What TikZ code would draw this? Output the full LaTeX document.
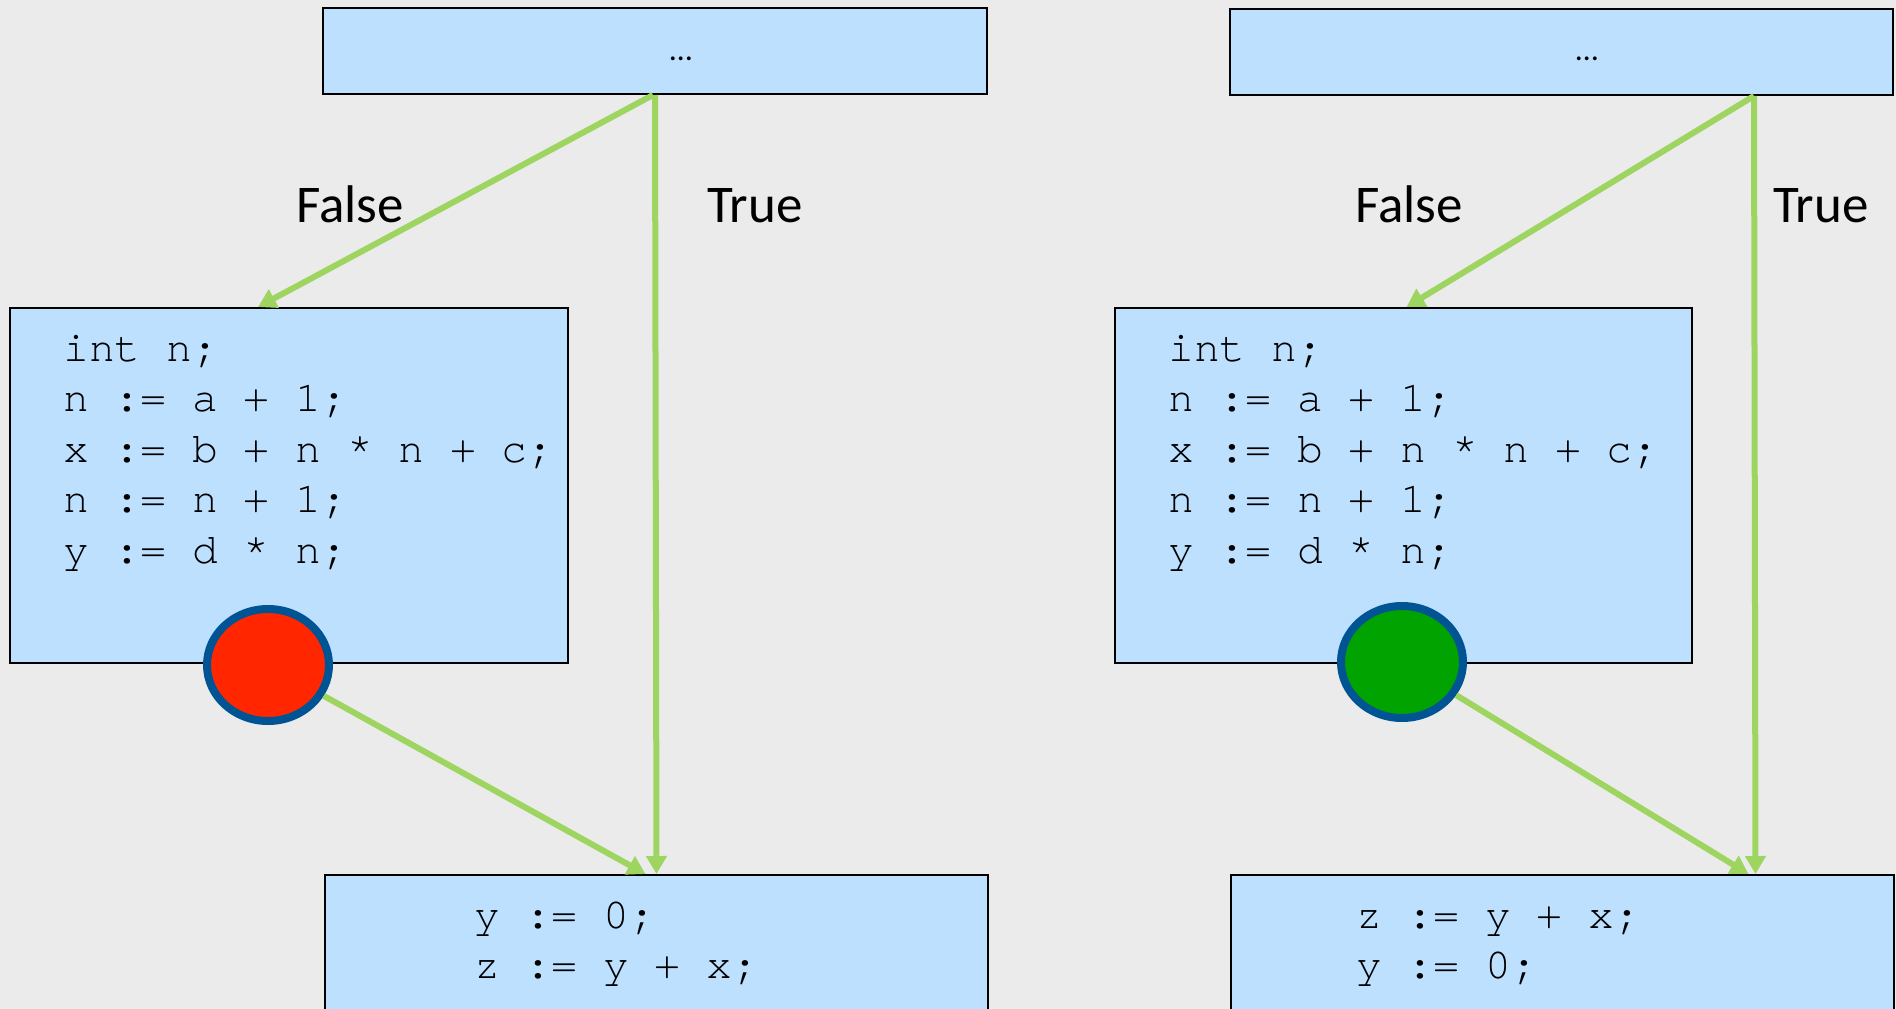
\documentclass[tikz,border=0pt]{standalone}
\usepackage{fontspec}
\setmainfont{Carlito}
\newfontfamily\codefont{texgyrecursor-regular.otf}
\usetikzlibrary{arrows.meta,shapes.geometric}
\definecolor{bg}{RGB}{235,235,235}
\definecolor{boxblue}{RGB}{190,224,255}
\definecolor{flowgreen}{RGB}{158,212,96}
\definecolor{ringblue}{RGB}{0,84,147}
\definecolor{stopred}{RGB}{255,38,0}
\definecolor{gogreen}{RGB}{0,163,0}
\begin{document}
\begin{tikzpicture}[x=1pt,y=-1pt,
  block/.style={rectangle, draw=black, line width=2pt, fill=boxblue, inner sep=0pt},
  flow/.style={draw=flowgreen, line width=6pt, -{Triangle[length=18pt,width=20pt]}},
  marker/.style={ellipse, draw=ringblue, line width=8pt, inner sep=0pt,
                 minimum width=122pt, minimum height=112pt},
  code/.style={font=\codefont\fontsize{43}{51}\selectfont, inner sep=0pt, anchor=base west},
  branch/.style={font=\fontsize{53}{60}\selectfont, inner sep=0pt, anchor=base},
  elide/.style={font=\fontsize{32}{38}\selectfont, inner sep=0pt, anchor=base}]
\useasboundingbox (0,0) rectangle (1896,1009);
\clip (0,0) rectangle (1896,1009);
\fill[bg] (0,0) rectangle (1896,1009);

% ---------- left flow graph ----------
\node[block, minimum width=664pt, minimum height=86pt] (topL) at (655,51) {};
\node[elide] (dotsL) at (681,60) {…};
\node[block, minimum width=558pt, minimum height=355pt] (midL) at (289,485.5) {};
\node[block, minimum width=663pt, minimum height=160pt] (botL) at (656.5,955) {};

\foreach \t [count=\i] in {int n;, n := a + 1;, x := b + n * n + c;, n := n + 1;, y := d * n;}
  \node[code] (codeL\i) at (63,{361+50.5*(\i-1)}) {\t};
\node[code] (endL1) at (474,928) {y := 0;};
\node[code] (endL2) at (474,978) {z := y + x;};

\node[branch] (falseL) at (350,222) {False};
\node[branch] (trueL) at (755,222) {True};

\draw[flow] ([xshift=-2pt]topL.south) -- ([xshift=-31pt]midL.north);
\draw[flow] (topL.south) -- (botL.north);

\node[marker, fill=stopred] (circL) at (268,665) {};
\draw[flow] (circL) -- ([xshift=-11pt]botL.north);

% ---------- right flow graph ----------
\node[block, minimum width=663pt, minimum height=86pt] (topR) at (1561,52) {};
\node[elide] (dotsR) at (1587,60) {…};
\node[block, minimum width=577pt, minimum height=355pt] (midR) at (1403.5,485.5) {};
\node[block, minimum width=663pt, minimum height=160pt] (botR) at (1562.5,955) {};

\foreach \t [count=\i] in {int n;, n := a + 1;, x := b + n * n + c;, n := n + 1;, y := d * n;}
  \node[code] (codeR\i) at (1168,{361+50.5*(\i-1)}) {\t};
\node[code] (endR1) at (1356,928) {z := y + x;};
\node[code] (endR2) at (1356,978) {y := 0;};

\node[branch] (falseR) at (1409,222) {False};
\node[branch] (trueR) at (1821,222) {True};

\draw[flow] ([xshift=193pt]topR.south) -- ([xshift=3pt]midR.north);
\draw[flow] ([xshift=193pt]topR.south) -- ([xshift=193pt]botR.north);

\node[marker, fill=gogreen] (circR) at (1402,662) {};
\draw[flow] (circR) -- ([xshift=186pt]botR.north);
\end{tikzpicture}
\end{document}
